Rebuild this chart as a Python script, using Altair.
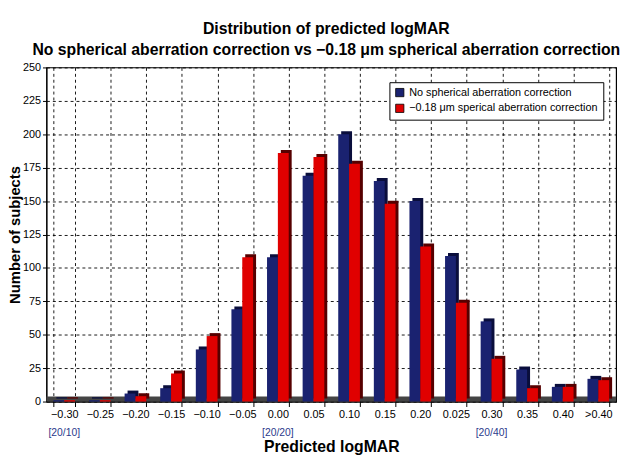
import altair as alt
import pandas as pd

categories = ["\u22120.30", "\u22120.25", "\u22120.20", "\u22120.15", "\u22120.10", "\u22120.05",
              "0.00", "0.05", "0.10", "0.15", "0.20", "0.025", "0.30", "0.35", "0.40", ">0.40"]
no_correction = [1, 1, 6, 10, 39, 69, 108, 169, 200, 165, 150, 109, 60, 24, 11, 17]
with_correction = [1, 1, 4, 21, 49, 108, 186, 183, 178, 148, 116, 74, 32, 10, 11, 16]
series_names = ["No spherical aberration correction",
                "\u22120.18 \u03bcm sperical aberration correction"]
snellen_cats = ["\u22120.30", "0.00", "0.30"]
snellen_labels = ["[20/10]", "[20/20]", "[20/40]"]

W, H = 578, 339
FONT = "Liberation Sans"
BLUE, RED = "#1a2270", "#e00000"
BLUE_D, RED_D = "#0a0e3c", "#560000"

rows = []
for c, a, b in zip(categories, no_correction, with_correction):
    rows.append({"cat": c, "series": series_names[0], "value": a})
    rows.append({"cat": c, "series": series_names[1], "value": b})
df = pd.DataFrame(rows)

xenc = alt.X("cat:N", sort=categories,
             scale=alt.Scale(paddingInner=0.39, paddingOuter=0.195),
             axis=alt.Axis(title="Predicted logMAR", labelAngle=0, tickBand="extent",
                           grid=True, gridDash=[3, 3], gridColor="#000", gridOpacity=0.9,
                           domainColor="#000", tickColor="#000", tickSize=5,
                           labelFont=FONT, labelFontSize=11, labelColor="#000", labelPadding=2,
                           titleFont=FONT, titleFontSize=16, titleFontWeight="bold",
                           titleY=46, titleBaseline="middle"))
yenc = alt.Y("value:Q", scale=alt.Scale(domain=[0, 250], nice=False),
             axis=alt.Axis(title="Number of subjects", values=list(range(0, 251, 25)),
                           grid=True, gridDash=[3, 3], gridColor="#000", gridOpacity=0.9,
                           domainColor="#000", tickColor="#000", tickSize=4,
                           labelFont=FONT, labelFontSize=11, labelColor="#000",
                           titleFont=FONT, titleFontSize=15, titleFontWeight="bold",
                           titleX=-32, titleY=H / 2, titleBaseline="middle", titleAlign="center"))

base = alt.Chart(df)

floor = alt.Chart(pd.DataFrame({"a": [0]})).mark_rect(color="#444").encode(
    x=alt.value(0), x2=alt.value(W), y=alt.value(H - 5), y2=alt.value(H))

layers = [floor]
for name, col_d, off in [(series_names[0], BLUE_D, -5.5), (series_names[1], RED_D, 5.5)]:
    layers.append(base.transform_filter(alt.datum.series == name).mark_bar(
        width=11, xOffset=off + 3, yOffset=-3, y2Offset=-3, color=col_d).encode(x=xenc, y=yenc))
for name, off in [(series_names[0], -5.5), (series_names[1], 5.5)]:
    layers.append(base.transform_filter(alt.datum.series == name).mark_bar(
        width=11, xOffset=off).encode(
        x=xenc, y=yenc,
        color=alt.Color("series:N", scale=alt.Scale(domain=series_names, range=[BLUE, RED]),
                        legend=alt.Legend(title=None, orient="none", legendX=348, legendY=15,
                                          symbolType="square", symbolSize=70,
                                          symbolStrokeColor="#000", symbolStrokeWidth=0.8,
                                          labelFont=FONT, labelFontSize=11, labelColor="#000",
                                          fillColor="#fff", strokeColor="#000", padding=5,
                                          rowPadding=3, labelLimit=300))))

snellen = alt.Chart(pd.DataFrame({"cat": snellen_cats, "lab": snellen_labels})).mark_text(
    font=FONT, fontSize=10.5, color="#2b3a8c").encode(
    x=alt.X("cat:N", sort=categories), y=alt.value(H + 32), text="lab:N")
layers.append(snellen)

chart = alt.layer(*layers).properties(
    width=W, height=H,
    title=alt.TitleParams(["Distribution of predicted logMAR",
                           "No spherical aberration correction vs \u22120.18 \u03bcm spherical aberration correction"],
                          font=FONT, fontSize=16, fontWeight="bold", color="#000",
                          anchor="middle", offset=4, lineHeight=21, dx=-5),
    autosize=alt.AutoSizeParams(type="none"),
    padding={"left": 39, "top": 57, "right": 8, "bottom": 56},
).configure_view(stroke="#000", strokeWidth=1.2)

chart.save("out.html", embed_options={"renderer": "svg", "actions": False})
